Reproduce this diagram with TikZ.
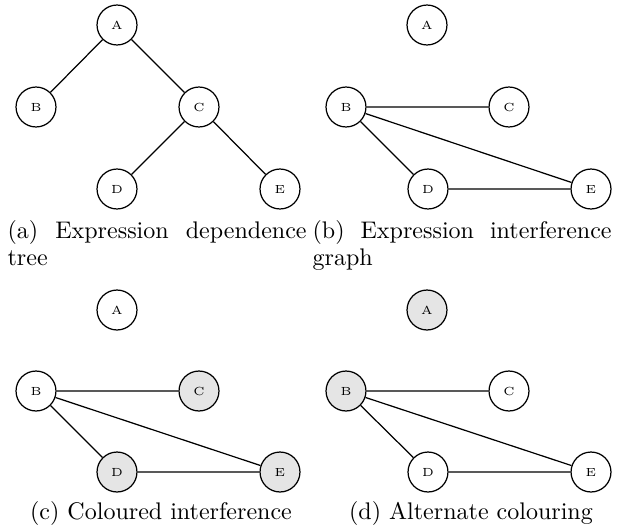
\documentclass[tikz,border=0pt]{standalone}
\usepackage{tkz-euclide}
\tikzset{>=stealth}
\tikzset{vertex/.style={draw, circle, minimum size=16.3pt, inner sep=0pt, font=\fontsize{4.8}{5}\selectfont},
    coloured/.style={vertex, fill=gray!20},
    subcap/.style={inner sep=0pt, font=\fontsize{9.8}{11.2}\selectfont, text width=122pt}}

\begin{document}
\begin{tikzpicture}[x=0.408pt, y=-0.408pt, line width=0.5pt]
    \useasboundingbox (0,0) rectangle (619,529);
    \tkzDefPoints{117/25/A1, 36/107/B1, 199/107/C1, 117/189/D1, 280/189/E1}
    \tkzDefPoints{427/25/A2, 346/107/B2, 509/107/C2, 428/189/D2, 591/189/E2}
    \tkzDefPoints{117/310/A3, 36/391/B3, 199/391/C3, 117/472/D3, 280/472/E3}
    \tkzDefPoints{427/310/A4, 346/391/B4, 509/391/C4, 428/472/D4, 591/472/E4}
    % (a) tree
    \node[vertex] (ta) at (A1) {A};
    \node[vertex] (tb) at (B1) {B};
    \node[vertex] (tc) at (C1) {C};
    \node[vertex] (td) at (D1) {D};
    \node[vertex] (te) at (E1) {E};
    \draw (ta) -- (tb) (ta) -- (tc) (tc) -- (td) (tc) -- (te);
    \node[subcap, anchor=base west, align=justify] (capa) at (7,238) {(a) Expression dependence tree};
    % (b) interference graph
    \node[vertex] (ga) at (A2) {A};
    \node[vertex] (gb) at (B2) {B};
    \node[vertex] (gc) at (C2) {C};
    \node[vertex] (gd) at (D2) {D};
    \node[vertex] (ge) at (E2) {E};
    \draw (gb) -- (gc) (gb) -- (gd) (gb) -- (ge) (gd) -- (ge);
    \node[subcap, anchor=base west, align=justify] (capb) at (312,238) {(b) Expression interference graph};
    % (c) coloured
    \node[vertex] (ca) at (A3) {A};
    \node[vertex] (cb) at (B3) {B};
    \node[coloured] (cc) at (C3) {C};
    \node[coloured] (cd) at (D3) {D};
    \node[coloured] (ce) at (E3) {E};
    \draw (cb) -- (cc) (cb) -- (cd) (cb) -- (ce) (cd) -- (ce);
    \node[subcap, anchor=base, align=center] (capc) at (161,519) {(c) Coloured interference};
    % (d) alternate
    \node[coloured] (da) at (A4) {A};
    \node[coloured] (db) at (B4) {B};
    \node[vertex] (dc) at (C4) {C};
    \node[vertex] (dd) at (D4) {D};
    \node[vertex] (de) at (E4) {E};
    \draw (db) -- (dc) (db) -- (dd) (db) -- (de) (dd) -- (de);
    \node[subcap, anchor=base, align=center] (capd) at (471,519) {(d) Alternate colouring};
\end{tikzpicture}
\end{document}
